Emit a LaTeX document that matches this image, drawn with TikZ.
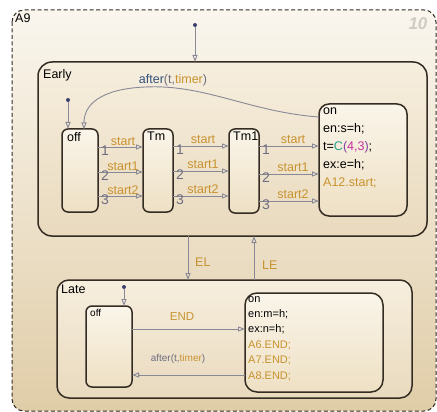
\documentclass[tikz,border=0pt]{standalone}
\usepackage{fontspec}
\setmainfont{Liberation Sans}
\usetikzlibrary{arrows.meta,calc}
\definecolor{org}{RGB}{200,146,46}
\definecolor{lin}{RGB}{136,136,150}
\definecolor{edge}{RGB}{52,44,34}
\definecolor{num}{RGB}{110,110,128}
\definecolor{blu}{RGB}{50,80,122}
\definecolor{dotc}{RGB}{60,64,110}
\definecolor{teal2}{RGB}{40,160,138}
\definecolor{purp}{RGB}{128,64,160}
\definecolor{mag}{RGB}{196,48,160}
\tikzset{
  statebox/.style={draw=edge,line width=1.5pt,rounded corners=6pt,inner sep=0pt,outer sep=0pt,
    top color={rgb,255:red,250;green,245;blue,234},bottom color={rgb,255:red,238;green,224;blue,196}},
  superbox/.style={draw=edge,line width=1.5pt,rounded corners=14pt,inner sep=0pt,outer sep=0pt,
    top color={rgb,255:red,246;green,238;blue,222},bottom color={rgb,255:red,233;green,218;blue,190}},
  trans/.style={draw=lin,line width=0.9pt,-{Triangle[open,length=7pt,width=5pt]}},
  dot/.style={circle,fill=dotc,inner sep=0pt,minimum size=4pt},
  lab/.style={text=org,font=\fontsize{12.5}{12.5}\selectfont,inner sep=1pt},
  nlab/.style={text=num,font=\fontsize{14}{14}\selectfont,inner sep=0pt},
  sname/.style={font=\fontsize{12.5}{12.5}\selectfont,inner sep=0pt,anchor=north west},
}
\begin{document}
\begin{tikzpicture}[x=1pt,y=-1pt]
\useasboundingbox (0,0) rectangle (437,412);
% outer chart A9
\path[top color={rgb,255:red,250;green,246;blue,238},bottom color={rgb,255:red,224;green,205;blue,168}]
  (12,10) [rounded corners=12pt] rectangle (436,411);
\draw[edge,line width=1pt,dash pattern=on 4pt off 2.5pt,rounded corners=12pt] (12,10) rectangle (436,411);
\node[sname] (a9) at (15,14) {A9};
\node[text={rgb,255:red,208;green,204;blue,196},font=\fontsize{17}{17}\selectfont\bfseries\itshape] (ten) at (418,24) {10};
% Early
\node[superbox,minimum width=389pt,minimum height=174pt] (early) at (232.5,149) {};
\node[sname] (earlyl) at (43,69) {Early};
% Late
\node[superbox,rounded corners=12pt,minimum width=355pt,minimum height=118pt] (late) at (234.5,339) {};
\node[sname] (latel) at (61,285) {Late};
% Early substates
\node[statebox,minimum width=36pt,minimum height=83pt] (off) at (80,170.5) {};
\node[sname] at ($(off.north west)+(5,3)$) {off};
\node[statebox,minimum width=30pt,minimum height=83pt] (tm) at (158,170.5) {};
\node[sname] at ($(tm.north west)+(4,3)$) {Tm};
\node[statebox,minimum width=30pt,minimum height=84pt] (tm1) at (244,171) {};
\node[sname] at ($(tm1.north west)+(4,3)$) {Tm1};
\node[statebox,rounded corners=10pt,minimum width=88pt,minimum height=112pt] (on) at (363,160) {};
\node[anchor=north west,inner sep=0pt,align=left,font=\fontsize{12.5}{18}\selectfont] (ontext) at ($(on.north west)+(4,4)$)
 {on\\en:s=h;\\t=\textcolor{teal2}{C}\textcolor{purp}{(}\textcolor{mag}{4,3}\textcolor{purp}{)};\\ex:e=h;\\\textcolor{org}{A12.start;}};
% Late substates
\node[statebox,minimum width=46pt,minimum height=81pt] (loff) at (109,346.5) {};
\node[anchor=north west,inner sep=0pt,font=\fontsize{10}{10}\selectfont] at ($(loff.north west)+(4,3)$) {off};
\node[statebox,rounded corners=12pt,minimum width=138pt,minimum height=99pt] (lon) at (314,342.5) {};
\node[anchor=north west,inner sep=0pt,align=left,font=\fontsize{11}{15.4}\selectfont] (lontext) at ($(lon.north west)+(3,3)$)
 {on\\en:m=h;\\ex:n=h;\\\textcolor{org}{A6.END;}\\\textcolor{org}{A7.END;}\\\textcolor{org}{A8.END;}};
% default transitions
\node[dot] (d0) at (195,25) {};
\draw[trans] (d0) -- (early.north -| d0);
\node[dot] (d1) at (68,100) {};
\draw[trans] (d1) -- (off.north -| d1);
\node[dot] (d2) at (124,287) {};
\draw[trans] (d2) -- (loff.north -| d2);
% after(t,timer) in Early
\coordinate (aa) at ($(on.north west)+(0,13)$);
\draw[trans] (aa) .. controls (250,112) and (205,84) .. (145,87) .. controls (100,89) and (84,105) .. (84,129.5);
\node[inner sep=0pt,font=\fontsize{12.5}{12.5}\selectfont] (aft) at (173,80) {\textcolor{blu}{after}\textcolor{num}{(t,}\textcolor{org}{timer}\textcolor{num}{)}};
% off -> Tm
\foreach \yy/\n/\l in {147/1/start,172/2/start1,196/3/start2}{
  \draw[trans] (off.east |- 0,\yy) -- (tm.west |- 0,\yy);
  \node[nlab] at ($(off.east |- 0,\yy)+(7,4)$) {\n};
  \node[lab,anchor=south] at ($(off.east |- 0,\yy)+(25,0)$) {\l};
}
\foreach \yy/\n/\l in {146/1/start,171/2/start1,196/3/start2}{
  \draw[trans] (tm.east |- 0,\yy) -- (tm1.west |- 0,\yy);
  \node[nlab] at ($(tm.east |- 0,\yy)+(7,4)$) {\n};
  \node[lab,anchor=south] at ($(tm.east |- 0,\yy)+(30,-1)$) {\l};
}
\foreach \yy/\n/\l in {146/1/start,174/2/start1,201/3/start2}{
  \draw[trans] (tm1.east |- 0,\yy) -- (on.west |- 0,\yy);
  \node[nlab] at ($(tm1.east |- 0,\yy)+(7,4)$) {\n};
  \node[lab,anchor=south] at ($(tm1.east |- 0,\yy)+(34,-1)$) {\l};
}
% EL / LE
\coordinate (elx) at (188,0);
\coordinate (lex) at (254,0);
\draw[trans] (early.south -| elx) -- (late.north -| elx);
\node[lab,anchor=west] at (194,262) {EL};
\draw[trans] (late.north -| lex) -- (early.south -| lex);
\node[lab,anchor=west] at (261,265) {LE};
% Late transitions
\draw[trans] (loff.east |- 0,329) -- (lon.west |- 0,329);
\node[lab,font=\fontsize{11.5}{11.5}\selectfont] at (182,317) {END};
\draw[trans] (lon.west |- 0,375) -- (loff.east |- 0,375);
\node[inner sep=0pt,font=\fontsize{10}{10}\selectfont] at (178,359) {\textcolor{num}{after(t,}\textcolor{org}{timer}\textcolor{num}{)}};
\end{tikzpicture}
\end{document}
